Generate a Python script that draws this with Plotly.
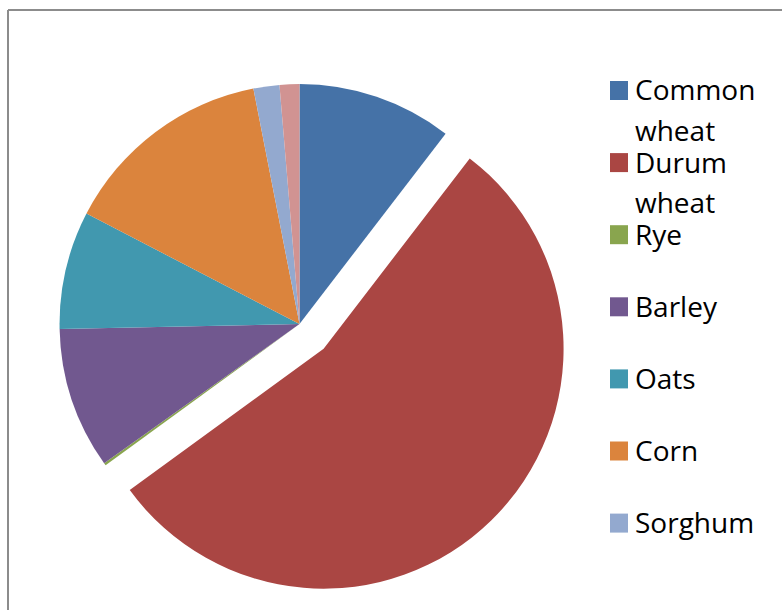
import plotly.graph_objects as go

# Cereal production shares (%)
categories = ["Common wheat", "Durum wheat", "Rye", "Barley", "Oats", "Corn", "Sorghum", "Other"]
shares = [10.42, 54.56, 0.17, 9.53, 7.94, 14.31, 1.75, 1.33]
colors = ["#4572A7", "#AA4643", "#89A54E", "#71588F", "#4198AF", "#DB843D", "#93A9CF", "#D19392"]
pulls = [0, 0.144, 0, 0, 0, 0, 0, 0]

W, H = 782, 610


def px(x):
    return x / W


def py(y):
    return 1 - y / H


fig = go.Figure(
    go.Pie(
        labels=categories,
        values=shares,
        marker=dict(colors=colors, line=dict(width=0)),
        pull=pulls,
        sort=False,
        direction="clockwise",
        rotation=0,
        textinfo="none",
        hoverinfo="label+percent",
        showlegend=False,
        domain=dict(x=[px(25), px(574)], y=[py(598.5), py(49.5)]),
    )
)

shapes = []
annotations = []

# Outer chart frame (top and left edges)
shapes.append(dict(type="line", xref="paper", yref="paper",
                   x0=px(8), y0=py(10), x1=1.05, y1=py(10),
                   line=dict(color="#8c8c8c", width=2)))
shapes.append(dict(type="line", xref="paper", yref="paper",
                   x0=px(8), y0=py(10), x1=px(8), y1=-0.05,
                   line=dict(color="#8c8c8c", width=2)))

# Legend: the box only has room for the first seven entries
font = dict(family="Open Sans", size=28, color="#000000")
first_baseline = 99.5
entry_step = 72.1
line_step = 40.5
for i, (name, col) in enumerate(zip(categories[:7], colors[:7])):
    base = first_baseline + i * entry_step
    shapes.append(dict(type="rect", xref="paper", yref="paper",
                       x0=px(610), x1=px(628), y0=py(base + 0.5), y1=py(base - 18.5),
                       fillcolor=col, line=dict(width=0)))
    words = name.split(" ")
    for j, word in enumerate(words):
        ann = dict(
            text=word, xref="paper", yref="paper",
            x=px(634), y=py(base + j * line_step - 10),
            xanchor="left", yanchor="middle", showarrow=False,
            font=font, borderpad=0,
        )
        if len(words) > 1:
            # wrapped labels sit tightly stacked, so keep their boxes short
            ann["height"] = 30
        annotations.append(ann)

fig.update_layout(
    width=W, height=H,
    margin=dict(l=0, r=0, t=0, b=0),
    paper_bgcolor="#ffffff",
    plot_bgcolor="#ffffff",
    shapes=shapes,
    annotations=annotations,
)

fig.write_html("out.html")
